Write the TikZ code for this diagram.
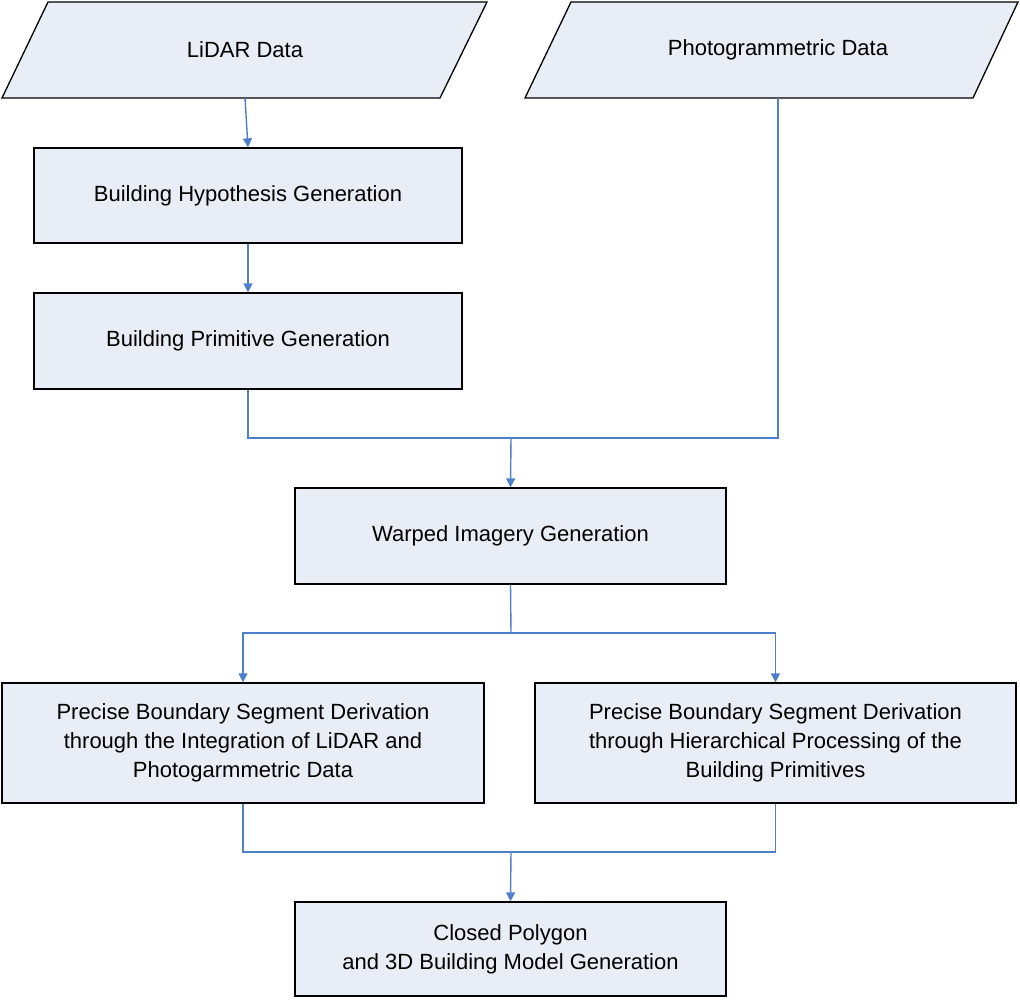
\documentclass[tikz,border=0pt]{standalone}
\usepackage{fontspec}
\setmainfont{Liberation Sans}
\usetikzlibrary{arrows.meta}
\begin{document}
\begin{tikzpicture}[x=1pt,y=-1pt,
  box/.style={draw=black,line width=1.3pt,fill=boxfill,align=center,inner sep=0pt,font=\fontsize{22}{29}\selectfont},
  conn/.style={draw=lineblue,line width=1.4pt},
  arr/.style={conn,-{Triangle[length=9pt,width=9pt]}}]
\definecolor{boxfill}{HTML}{E8EDF6}
\definecolor{lineblue}{HTML}{4F7FCB}
\useasboundingbox (0,0) rectangle (1020,1000);
\filldraw[draw=black,line width=1.3pt,fill=boxfill] (48,2)--(487,2)--(440,98)--(2,98)--cycle;
\filldraw[draw=black,line width=1.3pt,fill=boxfill] (571,2)--(1018,2)--(973,98)--(525,98)--cycle;
\node[align=center,inner sep=0pt,minimum width=440pt,minimum height=96pt,font=\fontsize{22}{29}\selectfont] (lidar) at (245,50) {LiDAR Data};
\node[align=center,inner sep=0pt,minimum width=448pt,minimum height=96pt,font=\fontsize{22}{29}\selectfont] (photo) at (778,50) {Photogrammetric Data};
\node[box,minimum width=428pt,minimum height=95pt] (hyp) at (248,195.5) {Building Hypothesis Generation};
\node[box,minimum width=428pt,minimum height=96pt] (prim) at (248,341) {Building Primitive Generation};
\node[box,minimum width=431pt,minimum height=96pt] (warp) at (510.5,536) {Warped Imagery Generation};
\node[box,minimum width=482pt,minimum height=120pt] (pl) at (243,743) {Precise Boundary Segment Derivation\\through the Integration of LiDAR and\\Photogarmmetric Data};
\node[box,minimum width=481pt,minimum height=120pt] (pr) at (775.5,743) {Precise Boundary Segment Derivation\\through Hierarchical Processing of the\\Building Primitives};
\node[box,minimum width=431pt,minimum height=94pt] (closed) at (510.5,949) {Closed Polygon\\and 3D Building Model Generation};
\coordinate (j1) at (511,438);
\coordinate (j2) at (511,633);
\coordinate (j3) at (511,852);
\draw[arr] (lidar.south) -- (hyp.north);
\draw[arr] (hyp.south) -- (prim.north);
\draw[conn] (prim.south) |- (j1);
\draw[conn] (photo.south) |- (j1);
\draw[arr] (j1) -- (warp.north);
\draw[conn] (warp.south) -- (j2);
\draw[arr] (j2) -| (pl.north);
\draw[arr] (j2) -| (pr.north);
\draw[conn] (pl.south) |- (j3);
\draw[conn] (pr.south) |- (j3);
\draw[arr] (j3) -- (closed.north);
\end{tikzpicture}
\end{document}
